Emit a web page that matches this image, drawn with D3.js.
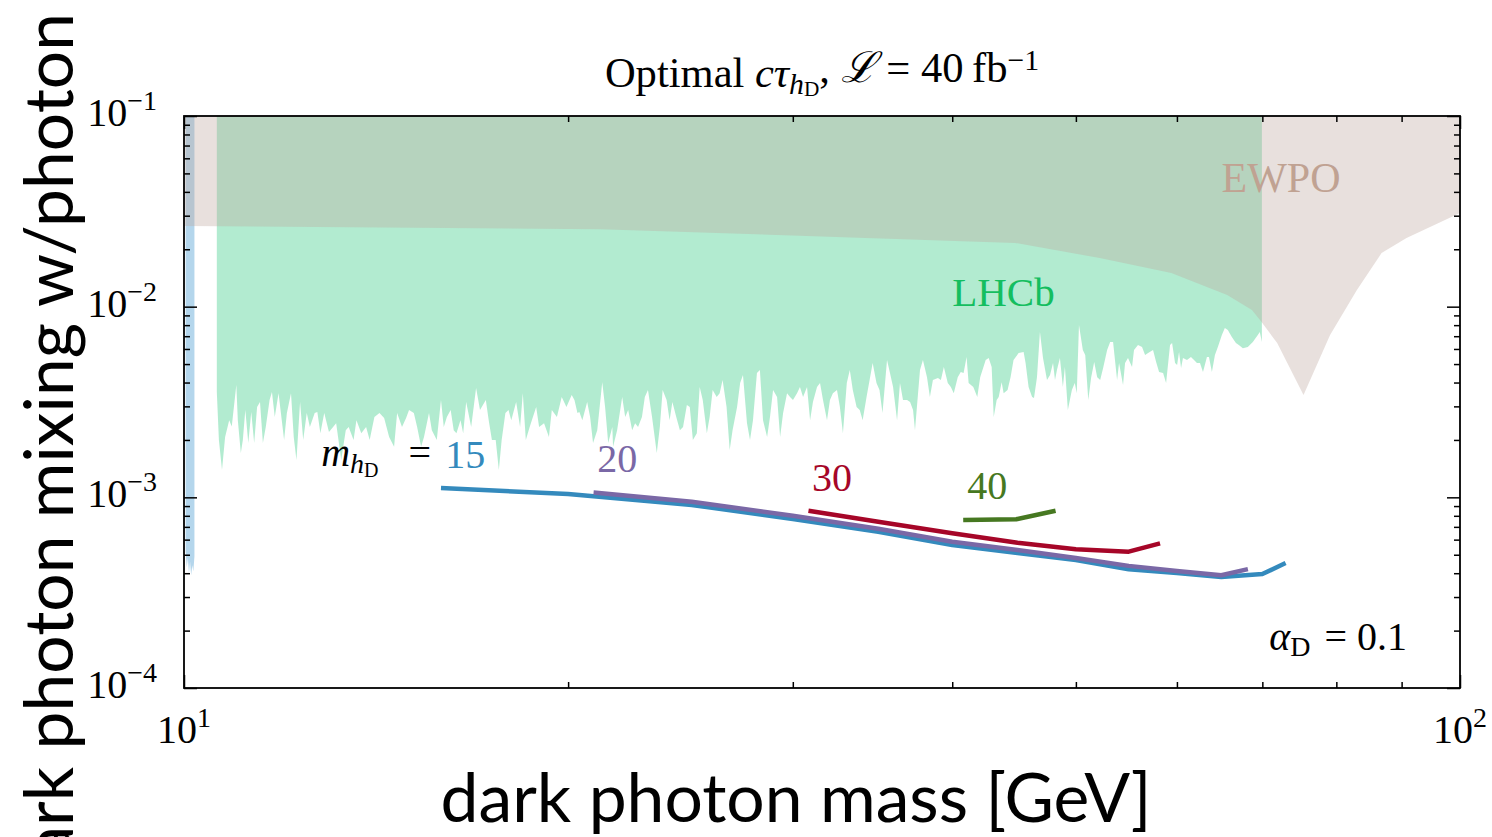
<!DOCTYPE html>
<html><head><meta charset="utf-8">
<script src="https://cdn.jsdelivr.net/npm/d3@7"></script>
<style>body{margin:0;background:#fff}svg{display:block}text{white-space:pre}</style>
</head><body>
<svg id="c" width="1492" height="837"></svg>
<script>
// ---------------- data ----------------
const xMajorExp = [1, 2];
const yMajorExp = [-4, -3, -2, -1];
const xMinor = [20, 30, 40, 50, 60, 70, 80, 90];
const yMinor = [2e-4,3e-4,4e-4,5e-4,6e-4,7e-4,8e-4,9e-4,2e-3,3e-3,4e-3,5e-3,6e-3,7e-3,8e-3,9e-3,2e-2,3e-2,4e-2,5e-2,6e-2,7e-2,8e-2,9e-2];

// narrow low-mass exclusion strip (light blue)
const stripMass  = [10.03, 10.05, 10.07, 10.09, 10.11, 10.13, 10.15, 10.17, 10.19];
const stripLower = [5.2e-4, 4.3e-4, 4.8e-4, 4.0e-4, 4.6e-4, 3.9e-4, 4.4e-4, 4.1e-4, 4.9e-4];

// LHCb excluded band: lower (jagged) edge, extends to the top
const lhcbMass = [10.61,10.65,10.71,10.77,10.85,10.90,10.99,11.02,11.08,11.12,11.17,11.23,11.29,11.35,11.41,11.47,11.53,11.59,11.67,11.72,11.78,11.86,11.98,12.04,12.13,12.19,12.25,12.33,12.40,12.48,12.55,12.66,12.72,12.79,12.88,12.99,13.16,13.28,13.39,13.46,13.58,13.65,13.77,13.89,13.98,14.10,14.23,14.35,14.48,14.61,14.69,14.82,14.93,15.01,15.14,15.23,15.34,15.42,15.56,15.64,15.78,15.90,15.98,16.07,16.18,16.27,16.35,16.47,16.55,16.64,16.79,16.94,17.06,17.24,17.33,17.43,17.55,17.65,17.74,17.86,17.96,18.05,18.21,18.34,18.43,18.53,18.66,18.88,18.98,19.15,19.32,19.42,19.60,19.77,19.94,20.13,20.23,20.34,
20.41,20.52,20.70,20.81,20.92,21.08,21.27,21.38,21.50,21.66,21.69,21.85,22.05,22.17,22.29,22.45,22.57,22.69,22.85,22.97,23.10,23.27,23.47,23.60,23.72,23.89,24.02,24.14,24.31,24.47,24.61,24.78,24.91,25.05,25.23,25.36,25.50,25.69,25.82,25.96,26.15,26.29,26.43,26.62,26.77,26.91,27.13,27.28,27.42,27.62,27.77,27.92,28.12,28.27,28.43,28.64,28.79,28.95,29.16,29.32,29.48,29.69,29.85,30.01,30.23,30.39,30.56,30.78,30.95,31.11,31.34,31.51,31.68,31.91,32.08,32.25,32.49,32.66,32.84,33.07,33.25,33.43,33.66,33.85,34.03,34.27,34.46,34.65,34.89,35.08,35.27,35.56,35.75,35.95,36.21,36.40,36.60,36.87,37.07,37.27,37.40,37.74,37.94,38.22,38.42,38.63,38.98,39.19,39.40,39.68,39.90,40.11,40.40,40.62,40.83,41.05,41.20,
41.55,41.85,42.07,42.49,42.72,42.95,43.11,43.34,43.50,43.73,43.89,44.20,44.44,44.68,45.09,45.50,45.66,45.91,46.20,46.36,46.61,46.86,47.12,47.46,47.72,47.98,48.15,48.32,48.58,48.84,49.02,49.28,49.64,49.90,50.08,50.28,50.63,50.85,51.13,51.40,51.68,51.96,52.24,52.52,52.90,53.19,53.47,53.86,54.05,54.44,54.64,54.93,55.33,55.53,55.93,56.34,56.65,56.96,57.47,57.79,58.10,58.52,58.84,59.26,59.48,59.80,60.02,60.23,60.45,60.66,61.10,61.54,61.88,62.21,62.55,62.89,63.34,63.57,63.91,64.26,64.60,65.07,65.42,65.77,66.25,66.74,67.09,67.58,68.19,68.81,69.43,69.68,69.94];
const lhcbLower = [3.57e-3,2.00e-3,1.39e-3,2.07e-3,2.54e-3,2.35e-3,3.88e-3,2.54e-3,1.71e-3,2.00e-3,2.87e-3,1.93e-3,2.80e-3,1.93e-3,2.98e-3,3.16e-3,1.93e-3,2.34e-3,3.24e-3,3.57e-3,2.64e-3,3.52e-3,2.00e-3,2.77e-3,3.52e-3,2.07e-3,1.57e-3,3.16e-3,2.00e-3,2.77e-3,2.34e-3,2.77e-3,2.80e-3,2.17e-3,2.77e-3,2.20e-3,2.45e-3,1.57e-3,2.25e-3,2.34e-3,2.00e-3,2.54e-3,2.17e-3,2.34e-3,2.00e-3,2.64e-3,2.77e-3,2.61e-3,2.07e-3,1.84e-3,2.77e-3,2.34e-3,2.61e-3,2.87e-3,2.77e-3,2.34e-3,1.84e-3,2.07e-3,2.77e-3,2.25e-3,2.00e-3,3.24e-3,2.34e-3,2.64e-3,2.87e-3,2.25e-3,2.17e-3,2.54e-3,2.17e-3,3.16e-3,2.34e-3,3.74e-3,2.87e-3,3.24e-3,2.54e-3,2.00e-3,2.00e-3,1.39e-3,2.00e-3,2.77e-3,2.87e-3,2.54e-3,3.16e-3,2.34e-3,3.52e-3,2.00e-3,2.34e-3,2.98e-3,2.34e-3,2.45e-3,2.07e-3,2.87e-3,2.64e-3,3.36e-3,2.98e-3,3.44e-3,3.24e-3,2.77e-3,
2.80e-3,2.54e-3,3.16e-3,2.64e-3,1.93e-3,2.25e-3,4.02e-3,2.98e-3,1.93e-3,2.34e-3,1.84e-3,2.25e-3,3.36e-3,2.64e-3,2.87e-3,2.25e-3,2.45e-3,2.34e-3,2.64e-3,3.36e-3,3.65e-3,2.64e-3,1.71e-3,2.34e-3,3.65e-3,3.24e-3,2.54e-3,3.16e-3,2.64e-3,2.25e-3,2.34e-3,3.05e-3,2.98e-3,2.00e-3,2.17e-3,3.79e-3,3.24e-3,2.17e-3,2.64e-3,3.65e-3,3.36e-3,3.52e-3,4.12e-3,2.98e-3,1.77e-3,2.25e-3,2.98e-3,3.98e-3,4.38e-3,2.45e-3,2.00e-3,2.54e-3,4.49e-3,4.65e-3,2.54e-3,2.07e-3,2.64e-3,3.65e-3,3.36e-3,2.07e-3,2.77e-3,3.52e-3,3.36e-3,3.24e-3,3.52e-3,3.79e-3,3.36e-3,3.79e-3,2.54e-3,3.16e-3,3.79e-3,3.98e-3,3.24e-3,2.54e-3,3.24e-3,3.52e-3,3.65e-3,2.98e-3,2.17e-3,3.98e-3,4.65e-3,3.65e-3,2.98e-3,2.87e-3,2.54e-3,3.36e-3,4.12e-3,5.06e-3,3.98e-3,3.65e-3,2.77e-3,5.25e-3,4.49e-3,3.79e-3,2.54e-3,3.98e-3,3.24e-3,3.24e-3,3.16e-3,2.87e-3,2.25e-3,4.65e-3,5.25e-3,4.27e-3,3.36e-3,4.12e-3,4.22e-3,4.12e-3,4.83e-3,3.98e-3,3.79e-3,3.52e-3,4.27e-3,4.54e-3,4.49e-3,5.44e-3,3.98e-3,
3.79e-3,3.36e-3,4.27e-3,5.25e-3,5.38e-3,4.83e-3,2.64e-3,3.24e-3,3.36e-3,4.02e-3,3.52e-3,3.65e-3,4.27e-3,5.25e-3,5.71e-3,5.78e-3,5.06e-3,3.79e-3,3.36e-3,3.32e-3,4.27e-3,7.36e-3,5.38e-3,4.12e-3,4.38e-3,5.06e-3,4.12e-3,4.65e-3,5.38e-3,3.79e-3,4.83e-3,2.87e-3,3.65e-3,3.98e-3,3.52e-3,8.01e-3,5.92e-3,5.58e-3,3.24e-3,4.27e-3,5.12e-3,4.27e-3,4.12e-3,4.77e-3,5.92e-3,6.52e-3,6.52e-3,4.12e-3,5.06e-3,3.88e-3,5.06e-3,5.38e-3,4.83e-3,5.92e-3,6.29e-3,6.14e-3,5.58e-3,5.71e-3,5.92e-3,5.12e-3,4.54e-3,4.49e-3,3.98e-3,6.29e-3,6.44e-3,5.06e-3,4.94e-3,5.78e-3,4.77e-3,5.38e-3,5.25e-3,5.44e-3,5.25e-3,5.06e-3,5.06e-3,4.54e-3,5.44e-3,5.44e-3,4.54e-3,5.58e-3,6.14e-3,7.10e-3,7.72e-3,7.54e-3,6.93e-3,6.44e-3,6.29e-3,6.06e-3,6.14e-3,6.52e-3,7.10e-3,7.36e-3,6.52e-3];

// EWPO excluded region: everything above this curve
const ewpoMass  = [10, 21.2, 44.8, 52.2, 59.4, 65.7, 68.7, 69.9, 71.9, 75.4, 79.1, 83.0, 86.8, 90.8, 100];
const ewpoLower = [0.0265, 0.0255, 0.0216, 0.0180, 0.0150, 0.0115, 0.0096, 0.0083, 0.00645, 0.00344, 0.0071, 0.0122, 0.0191, 0.0229, 0.031];

// projected reach curves for m_hD = 15, 20, 30, 40 GeV
const seriesNames = ["15", "20", "30", "40"];
const mass15 = [15.9, 20, 25, 30, 35, 40, 45, 50, 55, 60, 65, 70, 73];
const eps15  = [1.12e-3, 1.04e-3, 9.12e-4, 7.70e-4, 6.6e-4, 5.62e-4, 5.1e-4, 4.69e-4, 4.2e-4, 4.01e-4, 3.82e-4, 3.96e-4, 4.52e-4];
const mass20 = [20.94, 25, 30, 35, 40, 45, 50, 55, 60, 65, 68.2];
const eps20  = [1.06e-3, 9.49e-4, 8.01e-4, 6.85e-4, 5.85e-4, 5.3e-4, 4.81e-4, 4.37e-4, 4.11e-4, 3.9e-4, 4.2e-4];
const mass30 = [30.86, 35, 40, 45, 50, 55, 58.2];
const eps30  = [8.51e-4, 7.45e-4, 6.48e-4, 5.78e-4, 5.34e-4, 5.19e-4, 5.74e-4];
const mass40 = [40.8, 44.9, 48.2];
const eps40  = [7.6e-4, 7.67e-4, 8.5e-4];
const seriesColors = ["#348ABD", "#7A68A6", "#A60628", "#467821"];

// ---------------- drawing ----------------
const SERIF = '"Liberation Serif","DejaVu Serif",serif';
const SANS = 'Lato,"Noto Sans",sans-serif';
const svg = d3.select('#c');
const x = d3.scaleLog().domain([10, 100]).range([184, 1460]);
const y = d3.scaleLog().domain([1e-4, 1e-1]).range([688, 116]);
const [x0, x1] = x.range(), [y0, y1] = [y.range()[1], y.range()[0]];

svg.append('defs').append('clipPath').attr('id', 'clip')
  .append('rect').attr('x', x0).attr('y', y0).attr('width', x1 - x0).attr('height', y1 - y0);
const g = svg.append('g').attr('clip-path', 'url(#clip)');
const zip = (a, b) => a.map((v, i) => [v, b[i]]);
const TOP = 1;
const band = d3.area().x(d => x(d[0])).y0(d => y(d[1])).y1(y(TOP));

g.append('path').datum(zip(stripMass, stripLower)).attr('d', band)
  .attr('fill', 'rgb(5,118,192)').attr('fill-opacity', 0.3);
g.append('path').datum(zip(lhcbMass, lhcbLower)).attr('d', band)
  .attr('fill', 'rgb(0,190,100)').attr('fill-opacity', 0.3);
g.append('path').datum(zip(ewpoMass, ewpoLower)).attr('d', band)
  .attr('fill', 'rgb(190,167,157)').attr('fill-opacity', 0.35);

const line = d3.line().x(d => x(d[0])).y(d => y(d[1]));
const series = [zip(mass15, eps15), zip(mass20, eps20), zip(mass30, eps30), zip(mass40, eps40)];
series.forEach((s, i) => {
  g.append('path').datum(s).attr('d', line).attr('fill', 'none')
    .attr('stroke', seriesColors[i]).attr('stroke-width', 4.5).attr('stroke-linejoin', 'round');
});

// axes ticks (inward, all four sides)
const majX = xMajorExp.map(e => Math.pow(10, e));
const majY = yMajorExp.map(e => Math.pow(10, e));
function tickAxis(axisFn, scale, vals, size, tr) {
  const a = svg.append('g').attr('transform', tr)
    .call(axisFn(scale).tickValues(vals).tickSize(size).tickFormat(''));
  a.select('.domain').remove();
  a.selectAll('line').attr('stroke', '#000').attr('stroke-width', 1.5);
}
tickAxis(d3.axisBottom, x, majX, -13, `translate(0,${y1})`);
tickAxis(d3.axisBottom, x, xMinor, -6, `translate(0,${y1})`);
tickAxis(d3.axisTop, x, majX, -13, `translate(0,${y0})`);
tickAxis(d3.axisTop, x, xMinor, -6, `translate(0,${y0})`);
tickAxis(d3.axisLeft, y, majY, -13, `translate(${x0},0)`);
tickAxis(d3.axisLeft, y, yMinor, -6, `translate(${x0},0)`);
tickAxis(d3.axisRight, y, majY, -13, `translate(${x1},0)`);
tickAxis(d3.axisRight, y, yMinor, -6, `translate(${x1},0)`);

svg.append('rect').attr('x', x0).attr('y', y0).attr('width', x1 - x0).attr('height', y1 - y0)
  .attr('fill', 'none').attr('stroke', '#000').attr('stroke-width', 1.8);

function powLabel(px, py, exp, anchor) {
  const t = svg.append('text').attr('x', px).attr('y', py).attr('text-anchor', anchor)
    .attr('font-family', SERIF).attr('font-size', 40).attr('fill', '#000');
  t.append('tspan').text('10');
  t.append('tspan').attr('font-size', 28).attr('dy', -16).text(String(exp).replace('-', '\u2212'));
}
yMajorExp.forEach(e => powLabel(157, y(Math.pow(10, e)) + 10, e, 'end'));
xMajorExp.forEach(e => powLabel(x(Math.pow(10, e)), 743, e, 'middle'));

// title (fitted to the reference width)
const title = svg.append('text').attr('x', 822).attr('y', 87).attr('text-anchor', 'middle')
  .attr('font-family', SERIF).attr('font-size', 37).attr('fill', '#000');
title.append('tspan').text('Optimal ');
title.append('tspan').attr('font-style', 'italic').text('c\u03c4');
title.append('tspan').attr('font-style', 'italic').attr('font-size', '0.7em').attr('dy', '0.22em').text('h');
title.append('tspan').attr('font-size', '0.5em').attr('dy', '0.1em').text('D');
title.append('tspan').attr('dy', '-0.32em').text(', ');
title.append('tspan').attr('font-style', 'italic').text('\u2112');
title.append('tspan').text(' = 40\u2009fb');
title.append('tspan').attr('font-size', '0.7em').attr('dy', '-0.42em').text('\u22121');
const tfs = 37 * 435 / title.node().getComputedTextLength();
title.attr('font-size', tfs);

// region labels
svg.append('text').attr('x', x(72.4)).attr('y', y(0.04)).attr('text-anchor', 'middle')
  .attr('font-family', SERIF).attr('font-size', 42).attr('fill', 'rgb(192,162,146)').text('EWPO');
svg.append('text').attr('x', x(40)).attr('y', y(0.0101)).attr('text-anchor', 'start')
  .attr('font-family', SERIF).attr('font-size', 41).attr('fill', 'rgb(20,190,95)').text('LHCb');

// series labels
const mh = svg.append('text').attr('x', x(12.81)).attr('y', y(1.46e-3))
  .attr('font-family', SERIF).attr('font-size', 40).attr('fill', '#000');
mh.append('tspan').attr('font-style', 'italic').text('m');
mh.append('tspan').attr('font-style', 'italic').attr('font-size', 28).attr('dy', 7).text('h');
mh.append('tspan').attr('font-size', 20).attr('dy', 4).text('D');
svg.append('text').attr('x', x(15.62)).attr('y', y(1.46e-3)).attr('text-anchor', 'end')
  .attr('font-family', SERIF).attr('font-size', 40).attr('fill', '#000').text('=');
const labelPos = [[16.02, 1.426e-3], [21.08, 1.36e-3], [31.06, 1.08e-3], [41.09, 9.8e-4]];
seriesNames.forEach((n, i) => {
  svg.append('text').attr('x', x(labelPos[i][0])).attr('y', y(labelPos[i][1]))
    .attr('font-family', SERIF).attr('font-size', 40).attr('fill', seriesColors[i]).text(n);
});

const al = svg.append('text').attr('x', x(90.9)).attr('y', y(1.58e-4)).attr('text-anchor', 'end')
  .attr('font-family', SERIF).attr('font-size', 40).attr('fill', '#000');
al.append('tspan').attr('font-style', 'italic').text('\u03b1');
al.append('tspan').attr('font-size', 28).attr('dy', 6).text('D');
al.append('tspan').attr('dy', -6).attr('dx', 4).text(' = 0.1');

// axis titles
const xl = svg.append('text').attr('x', 796).attr('y', 822).attr('text-anchor', 'middle')
  .attr('font-family', SANS).attr('font-size', 64).attr('fill', '#000').text('dark photon mass [GeV]');
const target = 711;
const fs = 64 * target / xl.node().getComputedTextLength();
xl.attr('font-size', fs);
svg.append('text').attr('transform', 'translate(73,13) rotate(-90)').attr('text-anchor', 'end')
  .attr('font-family', SANS).attr('font-size', fs).attr('fill', '#000').text('dark photon mixing w/photon');
</script>
</body></html>
